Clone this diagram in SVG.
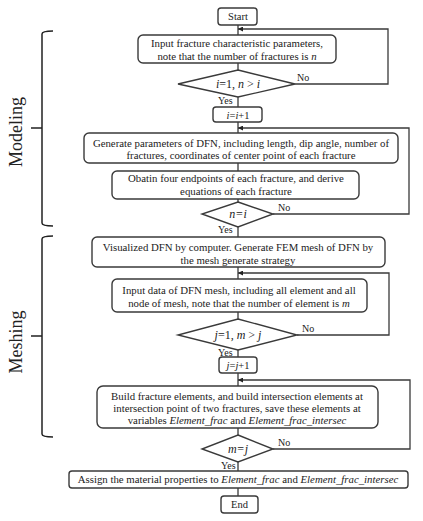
<svg xmlns="http://www.w3.org/2000/svg" width="423" height="521" viewBox="0 0 423 521">
<style>
.box{fill:#fff;stroke:#3a3a3a;stroke-width:1.4}
.t{font-family:"Liberation Serif","Times New Roman",serif;font-size:10.8px;fill:#222;text-anchor:middle}
.d{font-size:12px}
.s{font-size:10.5px}
.lbl{font-family:"Liberation Serif","Times New Roman",serif;font-size:18px;fill:#222;text-anchor:middle}
.yn{font-family:"Liberation Serif","Times New Roman",serif;font-size:10px;fill:#222}
.ln{fill:none;stroke:#3a3a3a;stroke-width:1.3}
.br{fill:none;stroke:#222;stroke-width:1.5}
</style>
<defs>
<marker id="ah" viewBox="0 0 10 10" refX="10" refY="5" markerWidth="5" markerHeight="5" orient="auto" markerUnits="userSpaceOnUse">
<path d="M0,0 L10,5 L0,10 Z" fill="#222"/>
</marker>
</defs>
<rect width="423" height="521" fill="#fff"/>

<g id="brackets">
<path class="br" d="M53,31 Q42,31 42,34 L42,223 Q42,226 53,226 M42,128 L31,128"/>
<path class="br" d="M53,236 Q42,236 42,239 L42,434 Q42,437 53,437 M42,336 L31,336"/>
<text class="lbl" transform="translate(22,132) rotate(-90)">Modeling</text>
<text class="lbl" transform="translate(22,342) rotate(-90)">Meshing</text>
</g>

<g id="connectors">
<path class="ln" d="M238,25 V35 M238,63 V70 M238,97 V107 M238,122 V133 M238,163 V171 M238,199 V202 M238,227 V237 M238,267 V279 M238,312 V319 M238,350 V357 M238,373 V386 M238,428 V435 M238,462 V471 M238,488 V496"/>
<path class="ln" d="M295,84 H388 V29 H238" marker-end="url(#ah)"/>
<path class="ln" d="M273,214 H409 V128 H238" marker-end="url(#ah)"/>
<path class="ln" d="M297,335 H389 V273 H238" marker-end="url(#ah)"/>
<path class="ln" d="M273,449 H410 V380 H238" marker-end="url(#ah)"/>
<text class="yn" x="297" y="81">No</text>
<text class="yn" x="278" y="211">No</text>
<text class="yn" x="302" y="332">No</text>
<text class="yn" x="278" y="446">No</text>
<text class="yn" x="218" y="104">Yes</text>
<text class="yn" x="218" y="233">Yes</text>
<text class="yn" x="218" y="356">Yes</text>
<text class="yn" x="221" y="469">Yes</text>
</g>

<g id="start">
<rect class="box" x="218" y="8" width="39" height="17" rx="3"/>
<text class="t s" x="238" y="20">Start</text>
</g>

<g id="input">
<rect class="box" x="138" y="35" width="198" height="28" rx="5"/>
<text class="t" x="237" y="46.5">Input fracture characteristic parameters,</text>
<text class="t" x="237" y="59.5">note that the number of fractures is <tspan font-style="italic">n</tspan></text>
</g>

<g id="cond1">
<polygon class="box" points="238,70 295,84 238,97 178,84"/>
<text class="t d" x="238" y="88"><tspan font-style="italic">i</tspan>=1, <tspan font-style="italic">n</tspan> &gt; <tspan font-style="italic">i</tspan></text>
</g>

<g id="inc-i">
<rect class="box" x="213" y="107" width="49" height="15" rx="3"/>
<text class="t s" x="238" y="118.5"><tspan font-style="italic">i</tspan>=<tspan font-style="italic">i</tspan>+1</text>
</g>

<g id="generate">
<rect class="box" x="84" y="133" width="314" height="30" rx="5"/>
<text class="t" x="241" y="146.5">Generate parameters of DFN, including length, dip angle, number of</text>
<text class="t" x="241" y="158.5">fractures, coordinates of center point of each fracture</text>
</g>

<g id="obtain">
<rect class="box" x="112" y="171" width="247" height="28" rx="5"/>
<text class="t" x="236" y="181.5">Obatin four endpoints of each fracture, and derive</text>
<text class="t" x="236" y="195">equations of each fracture</text>
</g>

<g id="cond2">
<polygon class="box" points="238,202 273,214 238,227 202,214"/>
<text class="t d" x="238" y="218" font-style="italic">n=i</text>
</g>

<g id="visualize">
<rect class="box" x="92" y="237" width="293" height="30" rx="5"/>
<text class="t" x="238" y="250.5">Visualized DFN by computer. Generate FEM mesh of DFN by</text>
<text class="t" x="238" y="263.5">the mesh generate strategy</text>
</g>

<g id="inputmesh">
<rect class="box" x="112" y="279" width="255" height="33" rx="5"/>
<text class="t" x="239" y="293.5">Input data of DFN mesh, including all element and all</text>
<text class="t" x="239" y="306.5">node of mesh, note that the number of element is <tspan font-style="italic">m</tspan></text>
</g>

<g id="cond3">
<polygon class="box" points="238,319 297,335 238,350 178,335"/>
<text class="t d" x="238" y="339"><tspan font-style="italic">j</tspan>=1, <tspan font-style="italic">m</tspan> &gt; <tspan font-style="italic">j</tspan></text>
</g>

<g id="inc-j">
<rect class="box" x="219" y="357" width="38" height="16" rx="3"/>
<text class="t s" x="238" y="369"><tspan font-style="italic">j</tspan>=<tspan font-style="italic">j</tspan>+1</text>
</g>

<g id="build">
<rect class="box" x="97" y="386" width="281" height="42" rx="6"/>
<text class="t" x="237" y="399.5">Build fracture elements, and build intersection elements at</text>
<text class="t" x="237" y="411.5">intersection point of two fractures, save these elements at</text>
<text class="t" x="237" y="423.5">variables <tspan font-style="italic">Element_frac</tspan> and <tspan font-style="italic">Element_frac_intersec</tspan></text>
</g>

<g id="cond4">
<polygon class="box" points="238,435 273,449 238,462 202,449"/>
<text class="t d" x="238" y="453" font-style="italic">m=j</text>
</g>

<g id="assign">
<rect class="box" x="69" y="471" width="339" height="17" rx="3"/>
<text class="t" x="238" y="483">Assign the material properties to <tspan font-style="italic">Element_frac</tspan> and <tspan font-style="italic">Element_frac_intersec</tspan></text>
</g>

<g id="end">
<rect class="box" x="221" y="496" width="37" height="17" rx="3"/>
<text class="t s" x="239.5" y="508">End</text>
</g>
</svg>
